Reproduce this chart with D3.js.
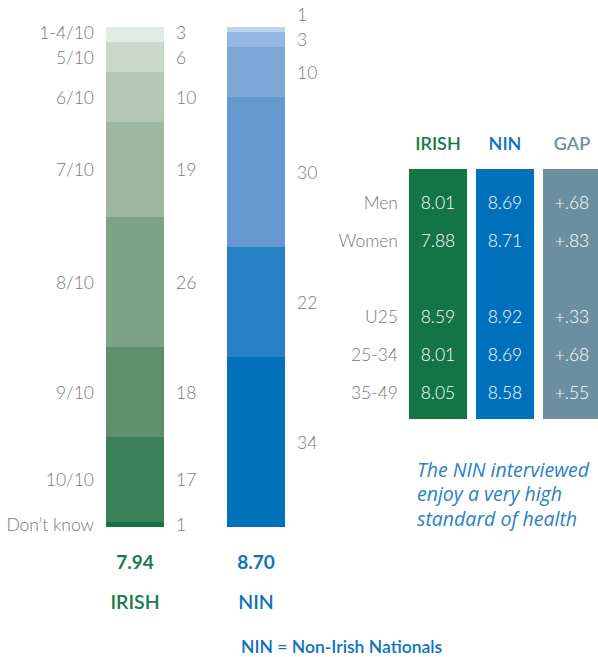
<!DOCTYPE html>
<html>
<head>
<meta charset="utf-8">
<script src="https://cdn.jsdelivr.net/npm/d3@7"></script>
<style>
  body { margin: 0; background: #fff; }
  svg { display: block; font-family: Lato, "Open Sans", sans-serif; }
</style>
</head>
<body>
<div id="chart"></div>
<script>
// stacked bars: share of respondents by health score (out of 10)
var irishCats = ["1-4/10", "5/10", "6/10", "7/10", "8/10", "9/10", "10/10", "Don\u2019t know"];
var irishVals = [3, 6, 10, 19, 26, 18, 17, 1];
var ninVals = [1, 3, 10, 30, 22, 34];
var groups = ["IRISH", "NIN"];
var means = ["7.94", "8.70"];

// breakdown table
var rowLabels = ["Men", "Women", "", "U25", "25-34", "35-49"];
var irishScores = ["8.01", "7.88", "", "8.59", "8.01", "8.05"];
var ninScores = ["8.69", "8.71", "", "8.92", "8.69", "8.58"];
var gapScores = ["+.68", "+.83", "", "+.33", "+.68", "+.55"];
var tableCols = ["IRISH", "NIN", "GAP"];

var irishColors = ["#e2ebe4", "#c9d8cb", "#b4c7b6", "#9eb7a1", "#7ca386", "#5f906e", "#3a8058", "#137545"];
var ninColors = ["#c0d3ee", "#95b6e0", "#7ea7d8", "#6699cf", "#2781c7", "#0070bb"];
var groupColors = { IRISH: "#1a7a4a", NIN: "#0d72bf", GAP: "#6d8fa0" };
var boxColors = { IRISH: "#137545", NIN: "#0070bb", GAP: "#6b8fa1" };
var grey = "#787878";

var w = 598, h = 657;

var svg = d3.select("#chart").append("svg")
  .attr("width", w)
  .attr("height", h);

var y = d3.scaleLinear().domain([0, 100]).range([27, 527]);
var x = d3.scaleBand().domain(groups).range([106, 285]).paddingInner(1 - 58 / 121);

// turn values into stacked segments
var stackUp = function(vals) {
  var out = [];
  var acc = 0;
  for (var i = 0; i < vals.length; i++) {
    out.push({ i: i, v: vals[i], y0: acc, y1: acc + vals[i] });
    acc += vals[i];
  }
  return out;
};

// label positions at segment middles, pushed up where they would collide
var labelPos = function(segs, gap) {
  var pos = segs.map(function(d) { return y((d.y0 + d.y1) / 2); });
  for (var i = pos.length - 2; i >= 0; i--) {
    pos[i] = Math.min(pos[i], pos[i + 1] - gap);
  }
  return pos;
};

var drawBar = function(name, vals, colors, catLabels) {
  var segs = stackUp(vals);
  var pos = labelPos(segs, 25);
  var bx = x(name);

  svg.append("g").selectAll("rect").data(segs).enter()
    .append("rect")
    .attr("x", bx)
    .attr("y", function(d) { return y(d.y0); })
    .attr("width", x.bandwidth())
    .attr("height", function(d) { return y(d.y1) - y(d.y0); })
    .attr("fill", function(d) { return colors[d.i]; });

  svg.append("g").selectAll("text").data(segs).enter()
    .append("text")
    .attr("x", bx + x.bandwidth() + 12)
    .attr("y", function(d) { return pos[d.i]; })
    .attr("dominant-baseline", "central")
    .attr("font-size", 17.5)
    .attr("font-weight", 300)
    .attr("fill", grey)
    .text(function(d) { return d.v; });

  if (catLabels) {
    svg.append("g").selectAll("text").data(segs).enter()
      .append("text")
      .attr("x", bx - 12)
      .attr("y", function(d) { return pos[d.i]; })
      .attr("text-anchor", "end")
      .attr("dominant-baseline", "central")
      .attr("font-size", 17.5)
      .attr("font-weight", 300)
      .attr("fill", grey)
      .text(function(d) { return catLabels[d.i]; });
  }
};

drawBar("IRISH", irishVals, irishColors, irishCats);
drawBar("NIN", ninVals, ninColors, null);

// means and group names under the bars
groups.forEach(function(g, i) {
  var cx = x(g) + x.bandwidth() / 2;
  svg.append("text")
    .attr("x", cx).attr("y", 561)
    .attr("text-anchor", "middle").attr("dominant-baseline", "central")
    .attr("font-size", 19).attr("font-weight", 700)
    .attr("fill", groupColors[g])
    .text(means[i]);
  svg.append("text")
    .attr("x", cx).attr("y", 601)
    .attr("text-anchor", "middle").attr("dominant-baseline", "central")
    .attr("font-size", 19.5).attr("font-weight", 600)
    .attr("fill", groupColors[g])
    .text(g);
});

// table on the right
var tx = d3.scaleBand().domain(tableCols).range([409, 601]).paddingInner(9 / 67);
var ty = d3.scalePoint().domain(d3.range(rowLabels.length)).range([202, 392]);
var colVals = { IRISH: irishScores, NIN: ninScores, GAP: gapScores };

svg.append("g").selectAll("rect").data(tableCols).enter()
  .append("rect")
  .attr("x", function(d) { return tx(d); })
  .attr("y", 169)
  .attr("width", tx.bandwidth())
  .attr("height", 250)
  .attr("fill", function(d) { return boxColors[d]; });

svg.append("g").selectAll("text").data(tableCols).enter()
  .append("text")
  .attr("x", function(d) { return tx(d) + tx.bandwidth() / 2; })
  .attr("y", 143)
  .attr("text-anchor", "middle").attr("dominant-baseline", "central")
  .attr("font-size", 18).attr("font-weight", 600)
  .attr("fill", function(d) { return groupColors[d]; })
  .text(function(d) { return d; });

svg.append("g").selectAll("text").data(rowLabels).enter()
  .append("text")
  .attr("x", 398)
  .attr("y", function(d, i) { return ty(i); })
  .attr("text-anchor", "end").attr("dominant-baseline", "central")
  .attr("font-size", 17.5).attr("font-weight", 300)
  .attr("fill", grey)
  .text(function(d) { return d; });

tableCols.forEach(function(c) {
  svg.append("g").selectAll("text").data(colVals[c]).enter()
    .append("text")
    .attr("x", tx(c) + tx.bandwidth() / 2)
    .attr("y", function(d, i) { return ty(i); })
    .attr("text-anchor", "middle").attr("dominant-baseline", "central")
    .attr("font-size", 17.5).attr("font-weight", 300)
    .attr("fill", "#fff")
    .text(function(d) { return d; });
});

// note
var note = ["The NIN interviewed", "enjoy a very high", "standard of health"];
svg.append("g").selectAll("text").data(note).enter()
  .append("text")
  .attr("x", 417)
  .attr("y", function(d, i) { return 469 + i * 24.5; })
  .attr("dominant-baseline", "central")
  .attr("font-family", "'Open Sans', sans-serif")
  .attr("font-style", "italic")
  .attr("font-size", 19.5)
  .attr("fill", "#2a80c8")
  .text(function(d) { return d; });

svg.append("text")
  .attr("x", 241).attr("y", 646)
  .attr("dominant-baseline", "central")
  .attr("font-size", 17.5).attr("font-weight", 600)
  .attr("fill", "#0d72bf")
  .text("NIN = Non-Irish Nationals");
</script>
</body>
</html>
